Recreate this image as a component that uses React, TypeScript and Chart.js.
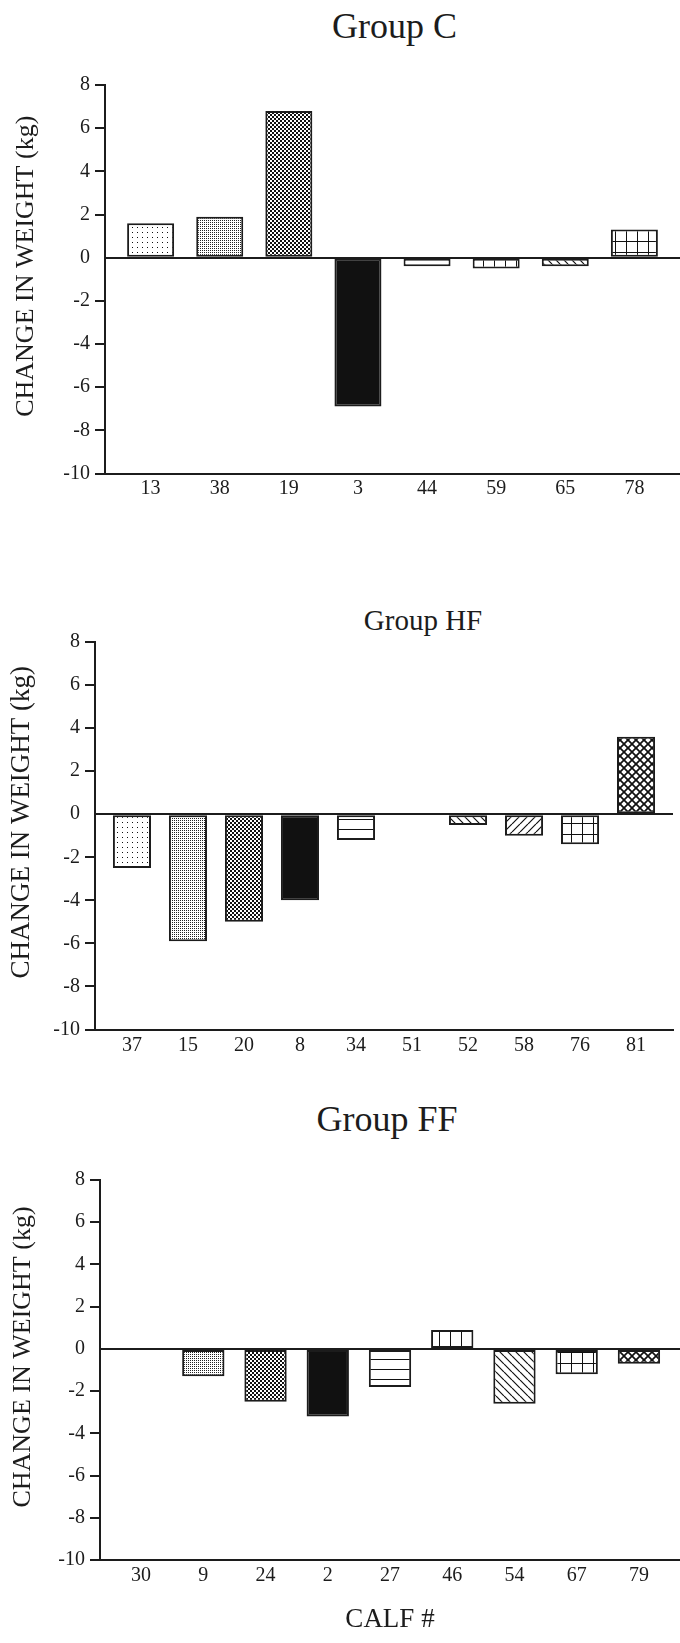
import { useEffect, useRef } from 'react';
import { Chart, registerables } from 'chart.js';

Chart.register(...registerables);

const FONT = '"Liberation Serif", "Times New Roman", serif';
const INK = '#1c1c1c';

// Calf numbers and change in weight (kg), one pair of arrays per group
const calvesC = ['13', '38', '19', '3', '44', '59', '65', '78'];
const changeC = [1.6, 1.9, 6.8, -6.9, -0.4, -0.5, -0.4, 1.3];

const calvesHF = ['37', '15', '20', '8', '34', '51', '52', '58', '76', '81'];
const changeHF = [-2.5, -5.9, -5.0, -4.0, -1.2, 0, -0.5, -1.0, -1.4, 3.6];

const calvesFF = ['30', '9', '24', '2', '27', '46', '54', '67', '79'];
const changeFF = [0, -1.3, -2.5, -3.2, -1.8, 0.9, -2.6, -1.2, -0.7];

// Value axis, shared by all three panels
const yMin = -10;
const yMax = 8;
const yStep = 2;

// Hatch fill of each bar, in bar order
type FillKind =
  | 'dots' | 'fine' | 'checker' | 'solid' | 'hlines'
  | 'vlines' | 'backslash' | 'slash' | 'grid' | 'diamond';

const fillsC: FillKind[] = ['dots', 'fine', 'checker', 'solid', 'hlines', 'vlines', 'backslash', 'grid'];
const fillsHF: FillKind[] = ['dots', 'fine', 'checker', 'solid', 'hlines', 'vlines', 'backslash', 'slash', 'grid', 'diamond'];
const fillsFF: FillKind[] = ['dots', 'fine', 'checker', 'solid', 'hlines', 'vlines', 'backslash', 'grid', 'diamond'];

const TILE: Record<FillKind, number> = {
  dots: 5, fine: 2, checker: 4, solid: 1, hlines: 10,
  vlines: 11, backslash: 8, slash: 8, grid: 11, diamond: 8,
};

function makeFill(kind: FillKind): string | CanvasPattern {
  if (kind === 'solid') return '#111';
  const s = TILE[kind];
  const c = document.createElement('canvas');
  c.width = s;
  c.height = s;
  const g = c.getContext('2d')!;
  g.fillStyle = '#fff';
  g.fillRect(0, 0, s, s);
  g.fillStyle = '#111';
  g.strokeStyle = '#111';
  const diag = (dir: 1 | -1) => {
    g.beginPath();
    for (const off of [-s, 0, s]) {
      if (dir === 1) {
        g.moveTo(off, 0);
        g.lineTo(off + s, s);
      } else {
        g.moveTo(off, s);
        g.lineTo(off + s, 0);
      }
    }
    g.stroke();
  };
  switch (kind) {
    case 'dots':
      g.fillRect(2, 2, 1, 1);
      break;
    case 'fine':
      g.fillStyle = '#222';
      g.fillRect(0, 0, 1, 1);
      break;
    case 'checker':
      g.fillRect(0, 0, 2, 2);
      g.fillRect(2, 2, 2, 2);
      break;
    case 'hlines':
      g.fillRect(0, s - 1, s, 1);
      break;
    case 'vlines':
      g.fillRect(s - 1, 0, 1, s);
      break;
    case 'grid':
      g.fillRect(0, s - 1, s, 1);
      g.fillRect(s - 1, 0, 1, s);
      break;
    case 'backslash':
      g.lineWidth = 1.2;
      diag(1);
      break;
    case 'slash':
      g.lineWidth = 1.2;
      diag(-1);
      break;
    case 'diamond':
      g.lineWidth = 1.7;
      diag(1);
      diag(-1);
      break;
  }
  return g.createPattern(c, 'repeat')!;
}

type PanelLayout = {
  top: number;
  height: number;
  padTop: number;
  padRight: number;
  axisWidth: number;
  axisHeight: number;
  yTitleSize: number;
  yTitlePad: number;
  xLabelPad: number;
  xTitle?: string;
  xTitleSize?: number;
  xTitlePad?: number;
};

type PanelProps = {
  calves: string[];
  change: number[];
  fills: FillKind[];
  layout: PanelLayout;
};

// Two en spaces ahead of the caption lift it slightly above the axis centre
const Y_CAPTION = '\u2002\u2002CHANGE IN WEIGHT (kg)';

function Panel({ calves, change, fills, layout }: PanelProps) {
  const ref = useRef<HTMLCanvasElement | null>(null);

  useEffect(() => {
    if (!ref.current) return;
    const n = calves.length;
    const chart = new Chart(ref.current, {
      type: 'bar',
      data: {
        datasets: [
          {
            data: change.map((v, i) => ({ x: i, y: v })),
            backgroundColor: fills.map(makeFill),
            borderColor: INK,
            borderWidth: 2,
            borderSkipped: false,
            categoryPercentage: 1,
            barPercentage: 0.68,
          },
        ],
      },
      options: {
        animation: false,
        responsive: true,
        maintainAspectRatio: false,
        events: [],
        layout: {
          padding: { top: layout.padTop, right: layout.padRight, left: 0, bottom: 0 },
        },
        plugins: {
          legend: { display: false },
          tooltip: { enabled: false },
          title: { display: false },
        },
        scales: {
          x: {
            type: 'linear',
            offset: false,
            min: -0.66,
            max: n - 1 + 0.66,
            afterBuildTicks: (axis: any) => {
              axis.ticks = calves.map((_, i) => ({ value: i }));
            },
            afterFit: (axis: any) => {
              axis.height = layout.axisHeight;
            },
            ticks: {
              autoSkip: false,
              maxRotation: 0,
              minRotation: 0,
              padding: layout.xLabelPad,
              color: INK,
              font: { family: FONT, size: 20 },
              callback: (v: any) => calves[Number(v)] ?? '',
            },
            grid: { display: false, drawTicks: false },
            border: { display: true, color: INK, width: 2 },
            title: layout.xTitle
              ? {
                  display: true,
                  text: layout.xTitle,
                  color: INK,
                  font: { family: FONT, size: layout.xTitleSize ?? 27 },
                  padding: { top: 0, bottom: layout.xTitlePad ?? 0 },
                }
              : { display: false },
          },
          y: {
            min: yMin,
            max: yMax,
            afterFit: (axis: any) => {
              axis.width = layout.axisWidth;
            },
            ticks: {
              stepSize: yStep,
              padding: 5,
              color: INK,
              font: { family: FONT, size: 20 },
            },
            grid: {
              drawOnChartArea: true,
              drawTicks: true,
              tickLength: 10,
              lineWidth: 2,
              tickWidth: 2,
              color: (ctx: any) => (ctx.tick && ctx.tick.value === 0 ? INK : 'rgba(0,0,0,0)'),
              tickColor: (ctx: any) => (ctx.tick && ctx.tick.value === 0 ? 'rgba(0,0,0,0)' : INK),
            },
            border: { display: true, color: INK, width: 2 },
            title: {
              display: true,
              text: Y_CAPTION,
              color: INK,
              font: { family: FONT, size: layout.yTitleSize },
              padding: { top: layout.yTitlePad, bottom: 0 },
            },
          },
        },
      },
    });
    return () => chart.destroy();
  }, [calves, change, fills, layout]);

  return (
    <div
      style={{
        position: 'absolute',
        left: 0,
        top: layout.top,
        width: 680,
        height: layout.height,
      }}
    >
      <canvas ref={ref} />
    </div>
  );
}

const layoutC: PanelLayout = {
  top: 0, height: 510, padTop: 85, padRight: 0,
  axisWidth: 105, axisHeight: 36.5, yTitleSize: 26, yTitlePad: 11, xLabelPad: 3,
};
const layoutHF: PanelLayout = {
  top: 560, height: 500, padTop: 82, padRight: 7,
  axisWidth: 95, axisHeight: 30.5, yTitleSize: 27, yTitlePad: 6, xLabelPad: 4,
};
const layoutFF: PanelLayout = {
  top: 1100, height: 543, padTop: 80, padRight: 0,
  axisWidth: 100, axisHeight: 83, yTitleSize: 26, yTitlePad: 8, xLabelPad: 3.6,
  xTitle: 'CALF #', xTitleSize: 27, xTitlePad: 7,
};

function GroupTitle({ text, size, x, top }: { text: string; size: number; x: number; top: number }) {
  return (
    <div
      style={{
        position: 'absolute',
        left: x,
        top,
        transform: 'translateX(-50%)',
        fontFamily: FONT,
        fontSize: size,
        lineHeight: 1,
        color: INK,
        whiteSpace: 'nowrap',
      }}
    >
      {text}
    </div>
  );
}

export default function App() {
  return (
    <div
      style={{
        position: 'absolute',
        left: 0,
        top: 0,
        width: 680,
        height: 1643,
        background: '#fff',
        overflow: 'hidden',
      }}
    >
      <GroupTitle text="Group C" size={36} x={394.5} top={8} />
      <Panel calves={calvesC} change={changeC} fills={fillsC} layout={layoutC} />
      <GroupTitle text="Group HF" size={29} x={423} top={606} />
      <Panel calves={calvesHF} change={changeHF} fills={fillsHF} layout={layoutHF} />
      <GroupTitle text="Group FF" size={36} x={387} top={1101} />
      <Panel calves={calvesFF} change={changeFF} fills={fillsFF} layout={layoutFF} />
    </div>
  );
}
